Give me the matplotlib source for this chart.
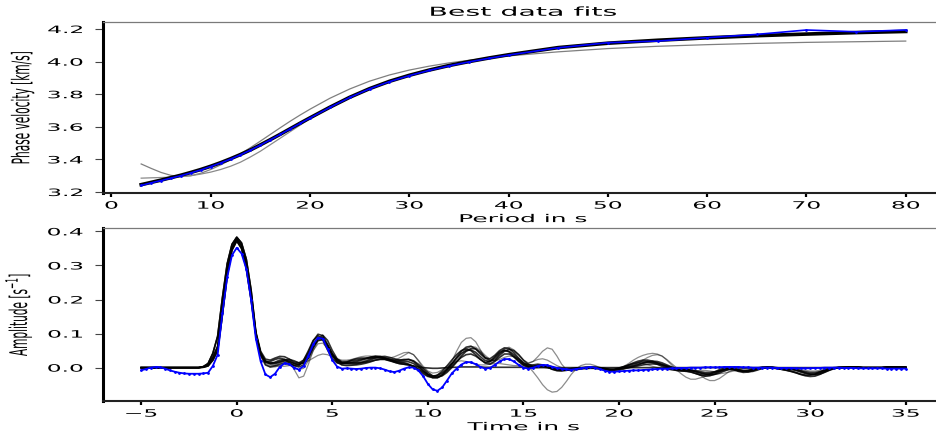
import numpy as np
import matplotlib
matplotlib.use("Agg")
import matplotlib.pyplot as plt
from matplotlib.patheffects import AbstractPathEffect
from matplotlib.transforms import Affine2D

# ---------------- dispersion curves (period in s, phase velocity in km/s) ----
period = [3, 4, 5, 6, 7, 8, 9, 10, 11, 12, 13, 14, 15, 16, 17, 18, 19, 20,
          22, 24, 26, 28, 30, 32, 34, 36, 38, 40, 45, 50, 55, 60, 65, 70, 75, 80]

vel_obs = [3.240, 3.256, 3.270, 3.285, 3.300, 3.317, 3.335, 3.356, 3.378, 3.402,
           3.428, 3.457, 3.488, 3.520, 3.553, 3.587, 3.621, 3.654, 3.719, 3.780,
           3.833, 3.877, 3.914, 3.946, 3.974, 3.998, 4.020, 4.040, 4.085, 4.116,
           4.126, 4.147, 4.167, 4.194, 4.183, 4.194]

vel_best = [3.245, 3.259, 3.273, 3.288, 3.303, 3.320, 3.338, 3.358, 3.380, 3.404,
            3.430, 3.458, 3.489, 3.521, 3.554, 3.588, 3.622, 3.655, 3.720, 3.781,
            3.834, 3.879, 3.916, 3.948, 3.976, 4.000, 4.022, 4.042, 4.086, 4.113,
            4.131, 4.146, 4.159, 4.169, 4.178, 4.185]

vel_alt1 = [3.372, 3.345, 3.320, 3.302, 3.296, 3.300, 3.315, 3.338, 3.366, 3.398,
            3.434, 3.472, 3.512, 3.553, 3.594, 3.634, 3.672, 3.708, 3.775, 3.832,
            3.880, 3.918, 3.948, 3.972, 3.992, 4.008, 4.022, 4.035, 4.060, 4.080,
            4.094, 4.104, 4.112, 4.118, 4.122, 4.126]

vel_alt2 = [3.285, 3.287, 3.289, 3.291, 3.294, 3.300, 3.310, 3.322, 3.338, 3.358,
            3.383, 3.415, 3.450, 3.490, 3.530, 3.570, 3.610, 3.650, 3.718, 3.780,
            3.833, 3.878, 3.915, 3.947, 3.975, 3.999, 4.021, 4.041, 4.084, 4.111,
            4.129, 4.144, 4.157, 4.167, 4.176, 4.183]

# ---------------- receiver functions (time in s, amplitude in 1/1000 s^-1) ---
time = np.arange(-5.0, 35.001, 0.25)

amp_obs = [-8, -4, 0, 2, 1, -3, -8, -12, -15, -17, -18, -18,
           -18, -17, -15, 5, 38, 160, 265, 330, 352, 335, 290, 200,
           85, 18, -20, -28, -18, 2, 13, 10, 0, -6, 5, 35,
           68, 88, 85, 55, 22, 3, -3, -2, -3, -4, -3, -1,
           0, 0, -2, -6, -11, -13, -9, -3, 1, 0, -8, -25,
           -48, -64, -68, -58, -38, -17, -3, 9, 16, 16, 10, 2,
           -3, -1, 8, 18, 25, 25, 18, 8, 0, -3, 0, 5,
           8, 7, 3, -1, -3, -5, -6, -4, -2, 0, 2, 0,
           -4, -9, -12, -12, -11, -10, -9, -8, -8, -7, -6, -5,
           -4, -3, -3, -2, -2, -1, -1, 0, 0, 0, 1, 1,
           1, 1, 2, 2, 2, 2, 1, 1, 0, 0, 0, 0,
           0, -1, -1, -1, -1, -2, -2, -2, -2, -1, -1, 0,
           0, 0, 0, -1, -1, -1, -2, -2, -2, -2, -2, -2,
           -3, -3, -3, -3, -3]

# onsets of the synthetic traces (t = -5 ... 0.75 s)
head_a = [0, 0, 0, 0, 0, 0, 0, 0, 0, 0, 0, 0,
          0, 2, 8, 30, 62, 175, 285, 352, 378, 358, 305, 215]
head_b = [0, 0, 0, 0, 0, 0, 0, 0, 0, 0, 0, 0,
          0, 3, 12, 42, 92, 205, 305, 362, 383, 366, 318, 228]
head_c = [0, 0, 0, 0, 0, 0, 0, 0, 0, 0, 0, 0,
          0, 1, 5, 22, 50, 155, 270, 345, 372, 350, 292, 200]
# shared late coda (t = 32 ... 35 s)
amp_tail = [1, 1, 1, 0, 0, 0, 0, 0, 1, 1, 1, 1, 1]

# synthetic traces, t = 1.0 ... 31.75 s
syn_1 = [100, 40, 16, 12, 16, 22, 24, 20, 12, 8, 15, 38, 68, 88, 88, 65,
         38, 20, 13, 13, 14, 14, 15, 18, 23, 28, 30, 28, 24, 20, 18, 18,
         17, 12, 2, -10, -20, -25, -23, -15, -3, 12, 28, 42, 50, 52, 45, 32,
         20, 18, 28, 42, 50, 48, 38, 24, 12, 5, 4, 6, 6, 3, -2, -5,
         -6, -5, -3, -2, -2, -1, 0, 0, -1, -3, -5, -5, -3, 0, 3, 6,
         10, 14, 16, 16, 14, 10, 5, 0, -4, -6, -6, -8, -12, -16, -18, -18,
         -15, -10, -5, -3, -5, -9, -11, -10, -7, -3, 0, 1, 0, -2, -3, -4,
         -5, -8, -13, -17, -19, -19, -16, -11, -6, -2, 0, 1]
syn_2 = [105, 48, 25, 22, 28, 33, 32, 25, 16, 14, 22, 45, 78, 98, 94, 68,
         40, 24, 18, 18, 20, 22, 24, 27, 31, 34, 33, 29, 25, 22, 22, 24,
         24, 18, 6, -8, -20, -28, -28, -20, -6, 10, 30, 48, 60, 63, 55, 40,
         28, 26, 36, 50, 58, 56, 44, 28, 14, 8, 8, 10, 8, 2, -5, -9,
         -10, -8, -5, -3, -1, 1, 2, 1, -1, -4, -6, -6, -3, 2, 8, 14,
         19, 22, 22, 19, 14, 8, 2, -4, -8, -10, -10, -12, -17, -22, -25, -24,
         -19, -12, -6, -3, -4, -7, -9, -8, -5, -2, 1, 2, 1, -2, -5, -8,
         -11, -15, -20, -24, -26, -25, -20, -13, -7, -2, 1, 1]
syn_3 = [95, 35, 8, 2, 5, 10, 14, 12, 6, 2, 8, 30, 60, 80, 82, 62,
         36, 17, 8, 6, 7, 8, 10, 13, 17, 22, 25, 25, 22, 16, 12, 10,
         8, 4, -4, -14, -24, -30, -30, -22, -10, 4, 18, 30, 38, 40, 34, 24,
         14, 10, 18, 30, 40, 40, 32, 20, 9, 3, 0, 1, 2, 0, -3, -5,
         -6, -6, -5, -3, -3, -3, -2, -2, -3, -5, -7, -7, -5, -2, 0, 2,
         5, 8, 10, 11, 10, 8, 4, 0, -3, -5, -6, -7, -9, -12, -14, -14,
         -12, -9, -6, -5, -7, -11, -14, -13, -9, -5, -2, 0, 0, -1, -2, -2,
         -3, -5, -9, -12, -14, -14, -12, -8, -4, -1, 0, 0]
syn_4 = [102, 44, 20, 14, 14, 18, 22, 24, 20, 14, 12, 28, 58, 84, 95, 80,
         50, 26, 14, 16, 22, 26, 28, 28, 28, 30, 32, 33, 30, 26, 22, 22,
         24, 20, 10, -2, -14, -24, -28, -24, -14, 0, 16, 34, 48, 56, 55, 45,
         30, 20, 22, 36, 48, 54, 50, 38, 22, 10, 4, 4, 6, 6, 2, -3,
         -6, -7, -6, -4, -2, 0, 1, 1, 0, -2, -5, -7, -7, -4, 0, 4,
         8, 13, 17, 19, 18, 14, 8, 2, -3, -6, -7, -8, -11, -15, -19, -21,
         -20, -16, -10, -5, -4, -6, -10, -12, -11, -7, -2, 1, 2, 0, -2, -3,
         -4, -6, -10, -15, -19, -21, -19, -14, -8, -3, 0, 1]
syn_5 = [96, 38, 18, 18, 24, 28, 24, 15, 6, 6, 22, 50, 80, 94, 82, 52,
         26, 14, 12, 14, 16, 18, 22, 26, 30, 32, 30, 26, 22, 18, 16, 14,
         10, 2, -8, -18, -26, -28, -22, -10, 5, 22, 38, 50, 55, 50, 38, 24,
         14, 18, 32, 46, 52, 46, 32, 18, 7, 2, 3, 6, 6, 2, -4, -8,
         -8, -6, -3, -1, 0, 0, -1, -2, -4, -6, -7, -5, -1, 3, 7, 11,
         15, 18, 18, 15, 10, 4, -2, -6, -8, -9, -10, -13, -17, -21, -22, -19,
         -13, -6, -2, -2, -5, -9, -11, -9, -5, -1, 1, 1, -1, -3, -5, -7,
         -10, -14, -19, -22, -22, -19, -13, -7, -2, 0, 1, 1]
syn_6 = [98, 42, 18, 12, 12, 16, 20, 18, 12, 10, 16, 36, 64, 84, 86, 66,
         40, 22, 14, 12, 12, 12, 14, 16, 19, 22, 24, 24, 20, 16, 12, 10,
         8, 5, 2, 0, -1, -2, -2, -1, 0, 1, 1, 2, 2, 2, 2, 2,
         1, 1, 1, 1, 1, 1, 1, 1, 1, 1, 0, 0, 0, 0, 0, 0,
         0, 0, 0, 0, 0, 0, 0, 0, 0, 0, 0, 0, 0, 0, 0, 0,
         0, 0, 0, 0, 0, 0, 0, 0, 0, 0, 0, 0, 0, 0, 0, 0,
         0, 0, 0, 0, 0, 0, 0, 0, 0, 0, 0, 0, 0, 0, 0, 0,
         0, 0, 0, 0, 0, 0, 0, 0, 0, 0, 0, 0]
# poorer-fitting traces, drawn lighter
syn_7 = [100, 40, 14, 6, 8, 14, 18, 14, -5, -30, -25, 10, 50, 78, 82, 60,
         32, 14, 8, 8, 8, 10, 14, 20, 26, 30, 30, 26, 22, 22, 28, 36,
         44, 38, 20, -2, -20, -30, -30, -22, -6, 18, 48, 74, 86, 88, 76, 52,
         26, 12, 20, 40, 56, 60, 52, 38, 22, 14, 18, 32, 48, 58, 54, 34,
         10, -6, -10, -8, -4, -2, 0, 0, -2, -5, -7, -6, -2, 4, 12, 22,
         30, 36, 40, 42, 40, 34, 22, 8, -6, -18, -28, -34, -34, -30, -26, -22,
         -20, -18, -16, -13, -10, -6, -3, -1, 0, 0, 0, 0, 0, -2, -5, -8,
         -12, -16, -20, -22, -22, -20, -16, -10, -5, -2, 0, 0]
syn_8 = [98, 38, 10, 2, 2, 6, 10, 8, 0, -6, -2, 20, 50, 70, 72, 56,
         34, 20, 14, 14, 14, 16, 18, 22, 26, 28, 27, 24, 20, 18, 16, 14,
         10, 4, -4, -12, -20, -24, -22, -16, -6, 8, 24, 40, 54, 62, 60, 50,
         36, 24, 20, 24, 30, 34, 32, 26, 16, 4, -12, -30, -50, -65, -72, -70,
         -58, -40, -20, -4, 6, 10, 10, 6, 0, -5, -8, -8, -4, 2, 8, 12,
         14, 12, 8, 4, 0, -4, -6, -6, -5, -4, -4, -6, -12, -22, -32, -38,
         -38, -32, -22, -12, -6, -4, -4, -4, -2, 0, 1, 1, 0, -1, -2, -3,
         -5, -8, -12, -16, -18, -17, -13, -8, -4, -1, 0, 0]
syn_9 = [104, 45, 18, 10, 6, 4, 4, 6, 8, 10, 14, 20, 28, 36, 40, 38,
         32, 26, 22, 22, 24, 28, 32, 34, 34, 32, 30, 28, 28, 32, 38, 44,
         45, 38, 22, 4, -10, -16, -14, -6, 4, 12, 18, 20, 18, 14, 10, 8,
         8, 10, 12, 12, 10, 8, 6, 6, 8, 12, 18, 24, 26, 22, 14, 6,
         0, -4, -6, -6, -4, -2, 0, 0, -1, -2, -2, -1, 0, 2, 4, 8,
         14, 22, 30, 36, 38, 34, 24, 12, 0, -8, -12, -12, -10, -8, -8, -10,
         -12, -12, -10, -6, -3, -1, 0, 0, 0, 0, 0, 0, 0, 0, -1, -2,
         -3, -4, -6, -8, -10, -10, -8, -5, -2, 0, 0, 0]

good_fits = [(head_a, syn_1), (head_b, syn_2), (head_c, syn_3),
             (head_b, syn_4), (head_a, syn_5), (head_c, syn_6)]
weak_fits = [(head_a, syn_7), (head_c, syn_8), (head_b, syn_9)]

STRETCH = 2.3


class WideText(AbstractPathEffect):
    """Render text glyphs widened along the screen x direction."""

    def __init__(self, sx=STRETCH, anchor="center"):
        super().__init__()
        self.sx = sx
        self.anchor = anchor

    def draw_path(self, renderer, gc, tpath, affine, rgbFace=None):
        ext = tpath.get_extents(affine)
        if self.anchor == "right":
            x0 = ext.x1
        elif self.anchor == "left":
            x0 = ext.x0
        else:
            x0 = 0.5 * (ext.x0 + ext.x1)
        widen = Affine2D().translate(-x0, 0).scale(self.sx, 1.0).translate(x0, 0)
        renderer.draw_path(gc, tpath, affine + widen, rgbFace)


def style_axes(ax, xticks, yticks, yfmt):
    ax.spines["right"].set_visible(False)
    ax.spines["left"].set_linewidth(2.2)
    ax.spines["left"].set_color("black")
    ax.spines["bottom"].set_linewidth(1.5)
    ax.spines["bottom"].set_color("#222222")
    ax.spines["top"].set_linewidth(0.9)
    ax.spines["top"].set_color("#7a7a7a")
    ax.set_xticks(xticks)
    ax.set_yticks(yticks)
    ax.set_yticklabels([yfmt.format(v) for v in yticks])
    ax.tick_params(axis="x", direction="out", length=3, width=1.6, pad=2.5,
                   labelsize=7.3, top=False, color="black")
    ax.tick_params(axis="y", direction="out", length=6, width=0.8, pad=8.5,
                   labelsize=7.3, right=False, color="#444444")
    for lab in ax.get_xticklabels():
        lab.set_path_effects([WideText(anchor="center")])
    for lab in ax.get_yticklabels():
        lab.set_path_effects([WideText(anchor="right")])


fig = plt.figure(figsize=(9.36, 4.41), dpi=100)
fig.patch.set_facecolor("white")

# ---------------- upper panel: dispersion ----------------
ax1 = fig.add_axes([0.110, 0.5624, 0.8985, 0.3877])
ax1.plot(period, vel_alt1, color="#7f7f7f", lw=0.9, zorder=2)
ax1.plot(period, vel_alt2, color="#8a8a8a", lw=0.9, zorder=2)
ax1.plot(period, vel_best, color="black", lw=2.6, zorder=3)
ax1.plot(period, vel_obs, color="#0000ff", lw=1.2, marker=".", ms=2.0, zorder=4)
ax1.set_xlim(-0.85, 83.85)
ax1.set_ylim(3.194, 4.243)
style_axes(ax1, list(range(0, 81, 10)), [3.2, 3.4, 3.6, 3.8, 4.0, 4.2], "{:.1f}")
ax1.set_title("Best data fits", fontsize=8.9, pad=4.5,
              path_effects=[WideText(anchor="center")])
ax1.set_xlabel("Period in s", fontsize=7.8, labelpad=2.5,
               path_effects=[WideText(anchor="center")])
ax1.set_ylabel("Phase velocity [km/s]", fontsize=7.6, va="center",
               path_effects=[WideText(anchor="center")])
ax1.yaxis.set_label_coords(-0.0957, 0.5)

# ---------------- lower panel: receiver functions ----------------
ax2 = fig.add_axes([0.110, 0.0907, 0.8985, 0.3923])
for head, tr in weak_fits:
    ax2.plot(time, np.array(head + tr + amp_tail) / 1000.0,
             color="black", lw=0.9, alpha=0.45, zorder=2)
for head, tr in good_fits:
    ax2.plot(time, np.array(head + tr + amp_tail) / 1000.0,
             color="black", lw=1.2, alpha=0.8, zorder=3)
ax2.plot(time, np.array(amp_obs) / 1000.0, color="#0000ff", lw=1.3,
         marker=".", ms=2.0, zorder=4)
ax2.set_xlim(-7, 37)
ax2.set_ylim(-0.098, 0.41)
style_axes(ax2, list(range(-5, 36, 5)), [0.0, 0.1, 0.2, 0.3, 0.4], "{:.1f}")
ax2.set_xlabel("Time in s", fontsize=7.8, labelpad=2.5,
               path_effects=[WideText(anchor="center")])
ax2.set_ylabel("Amplitude [s$^{-1}$]", fontsize=7.6, va="center",
               path_effects=[WideText(anchor="center")])
ax2.yaxis.set_label_coords(-0.1005, 0.5)

fig.savefig("out.png", dpi=100, facecolor="white")
